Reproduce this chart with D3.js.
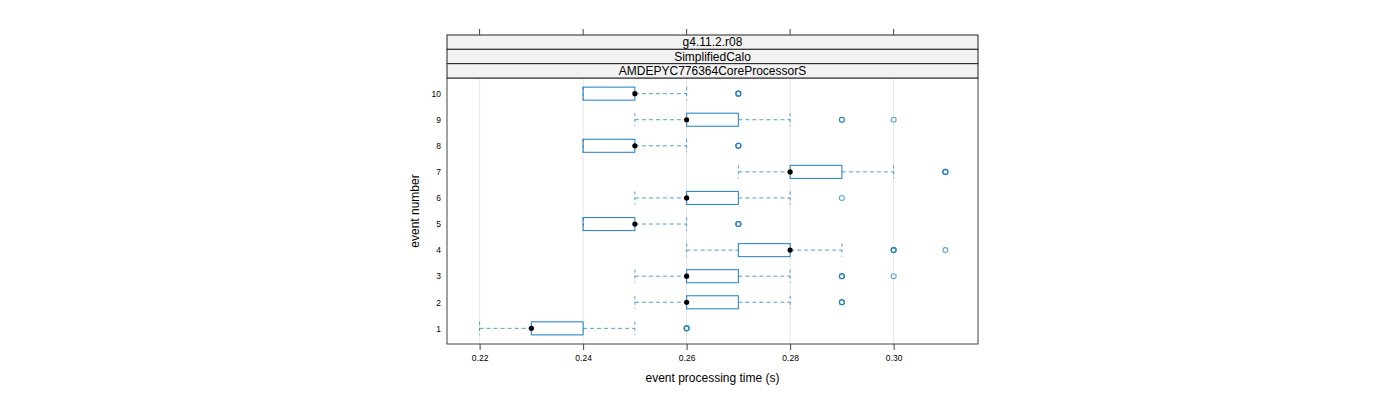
<!DOCTYPE html>
<html><head><meta charset="utf-8">
<script src="https://cdn.jsdelivr.net/npm/d3@7"></script>
<style>body{margin:0;background:#fff}svg{display:block}text{font-family:"Liberation Sans",Arial,sans-serif;fill:#000}</style>
</head><body><svg id="c" width="1400" height="400"></svg>
<script>
const events = ["1","2","3","4","5","6","7","8","9","10"];
const whiskerLow  = [0.22,0.25,0.25,0.26,0.24,0.25,0.27,0.24,0.25,0.24];
const q1          = [0.23,0.26,0.26,0.27,0.24,0.26,0.28,0.24,0.26,0.24];
const medians     = [0.23,0.26,0.26,0.28,0.25,0.26,0.28,0.25,0.26,0.25];
const q3          = [0.24,0.27,0.27,0.28,0.25,0.27,0.29,0.25,0.27,0.25];
const whiskerHigh = [0.25,0.28,0.28,0.29,0.26,0.28,0.30,0.26,0.28,0.26];
// outliers per event: [value, count]
const outliers = [
  [[0.26,3]],
  [[0.29,3]],
  [[0.29,3],[0.30,1]],
  [[0.30,3],[0.31,1]],
  [[0.27,3]],
  [[0.29,1]],
  [[0.31,3]],
  [[0.27,3]],
  [[0.29,2],[0.30,1]],
  [[0.27,3]]
];
const xTicks = [0.22,0.24,0.26,0.28,0.30];
const stripLabels = ["g4.11.2.r08","SimplifiedCalo","AMDEPYC776364CoreProcessorS"];
const xTitle = "event processing time (s)";
const yTitle = "event number";

const col = "#1a7cc0";
const svg = d3.select("#c");
const L = 447, R = 978, T = 78, B = 344;
const x = d3.scaleLinear().domain([0.2137, 0.3163]).range([L, R]);
const y = d3.scaleLinear().domain([0.4, 10.6]).range([B, T]);
const half = (y(0) - y(0.25));

// grid
svg.append("g").selectAll("line").data(xTicks).join("line")
  .attr("x1", d => x(d)).attr("x2", d => x(d)).attr("y1", T).attr("y2", B)
  .attr("stroke", "#e6e6e6").attr("stroke-width", 1);

// boxes
const g = svg.append("g");
events.forEach((e, i) => {
  const cy = y(i + 1);
  const dash = "4,3";
  g.append("line").attr("x1", x(whiskerLow[i])).attr("x2", x(q1[i])).attr("y1", cy).attr("y2", cy)
    .attr("stroke", col).attr("stroke-dasharray", dash).attr("stroke-opacity", 0.75);
  g.append("line").attr("x1", x(q3[i])).attr("x2", x(whiskerHigh[i])).attr("y1", cy).attr("y2", cy)
    .attr("stroke", col).attr("stroke-dasharray", dash).attr("stroke-opacity", 0.75);
  [whiskerLow[i], whiskerHigh[i]].forEach(v => {
    g.append("line").attr("x1", x(v)).attr("x2", x(v)).attr("y1", cy - half).attr("y2", cy + half)
      .attr("stroke", col).attr("stroke-dasharray", "3,3").attr("stroke-opacity", 0.75);
  });
  g.append("rect").attr("x", x(q1[i])).attr("y", cy - half)
    .attr("width", x(q3[i]) - x(q1[i])).attr("height", 2 * half)
    .attr("fill", "none").attr("stroke", col).attr("stroke-width", 1.1).attr("stroke-opacity", 0.9);
  g.append("circle").attr("cx", x(medians[i])).attr("cy", cy).attr("r", 2.6).attr("fill", "#000");
  outliers[i].forEach(([v, n]) => {
    for (let k = 0; k < n; k++) {
      g.append("circle").attr("cx", x(v)).attr("cy", cy).attr("r", 2.5)
        .attr("fill", "none").attr("stroke", col).attr("stroke-width", 1.1).attr("stroke-opacity", 0.7);
    }
  });
});

// panel border
svg.append("rect").attr("x", L).attr("y", T).attr("width", R - L).attr("height", B - T)
  .attr("fill", "none").attr("stroke", "#444").attr("stroke-width", 1);

// strips
const sh = (T - 35) / 3;
stripLabels.forEach((s, i) => {
  const sy = 35 + i * sh;
  svg.append("rect").attr("x", L).attr("y", sy).attr("width", R - L).attr("height", sh)
    .attr("fill", "#f2f2f2").attr("stroke", "#222").attr("stroke-width", 1);
  svg.append("text").attr("x", (L + R) / 2).attr("y", sy + sh / 2 + 4.3)
    .attr("text-anchor", "middle").attr("font-size", 12).text(s);
});

// top ticks
svg.append("g").selectAll("line").data(xTicks).join("line")
  .attr("x1", d => x(d)).attr("x2", d => x(d)).attr("y1", 29).attr("y2", 35)
  .attr("stroke", "#444");

// bottom axis
const xa = svg.append("g").attr("transform", `translate(0,${B})`)
  .call(d3.axisBottom(x).tickValues(xTicks).tickFormat(d3.format(".2f")).tickSize(6).tickSizeOuter(0));
xa.select(".domain").remove();
xa.selectAll("line").attr("stroke", "#444");
xa.selectAll("text").attr("font-size", 8.5).attr("dy", "0.95em").attr("font-family", "Liberation Sans, Arial, sans-serif");

// left axis labels
const ya = svg.append("g").attr("transform", `translate(${L},0)`)
  .call(d3.axisLeft(y).tickValues(d3.range(1, 11)).tickFormat((d) => events[d - 1]).tickSize(0).tickPadding(6));
ya.select(".domain").remove();
ya.selectAll("text").attr("font-size", 8.5).attr("font-family", "Liberation Sans, Arial, sans-serif");

// titles
svg.append("text").attr("x", (L + R) / 2).attr("y", 382).attr("text-anchor", "middle")
  .attr("font-size", 12).text(xTitle);
svg.append("text").attr("transform", `translate(419,${(T + B) / 2}) rotate(-90)`)
  .attr("text-anchor", "middle").attr("font-size", 12).text(yTitle);
</script></body></html>
